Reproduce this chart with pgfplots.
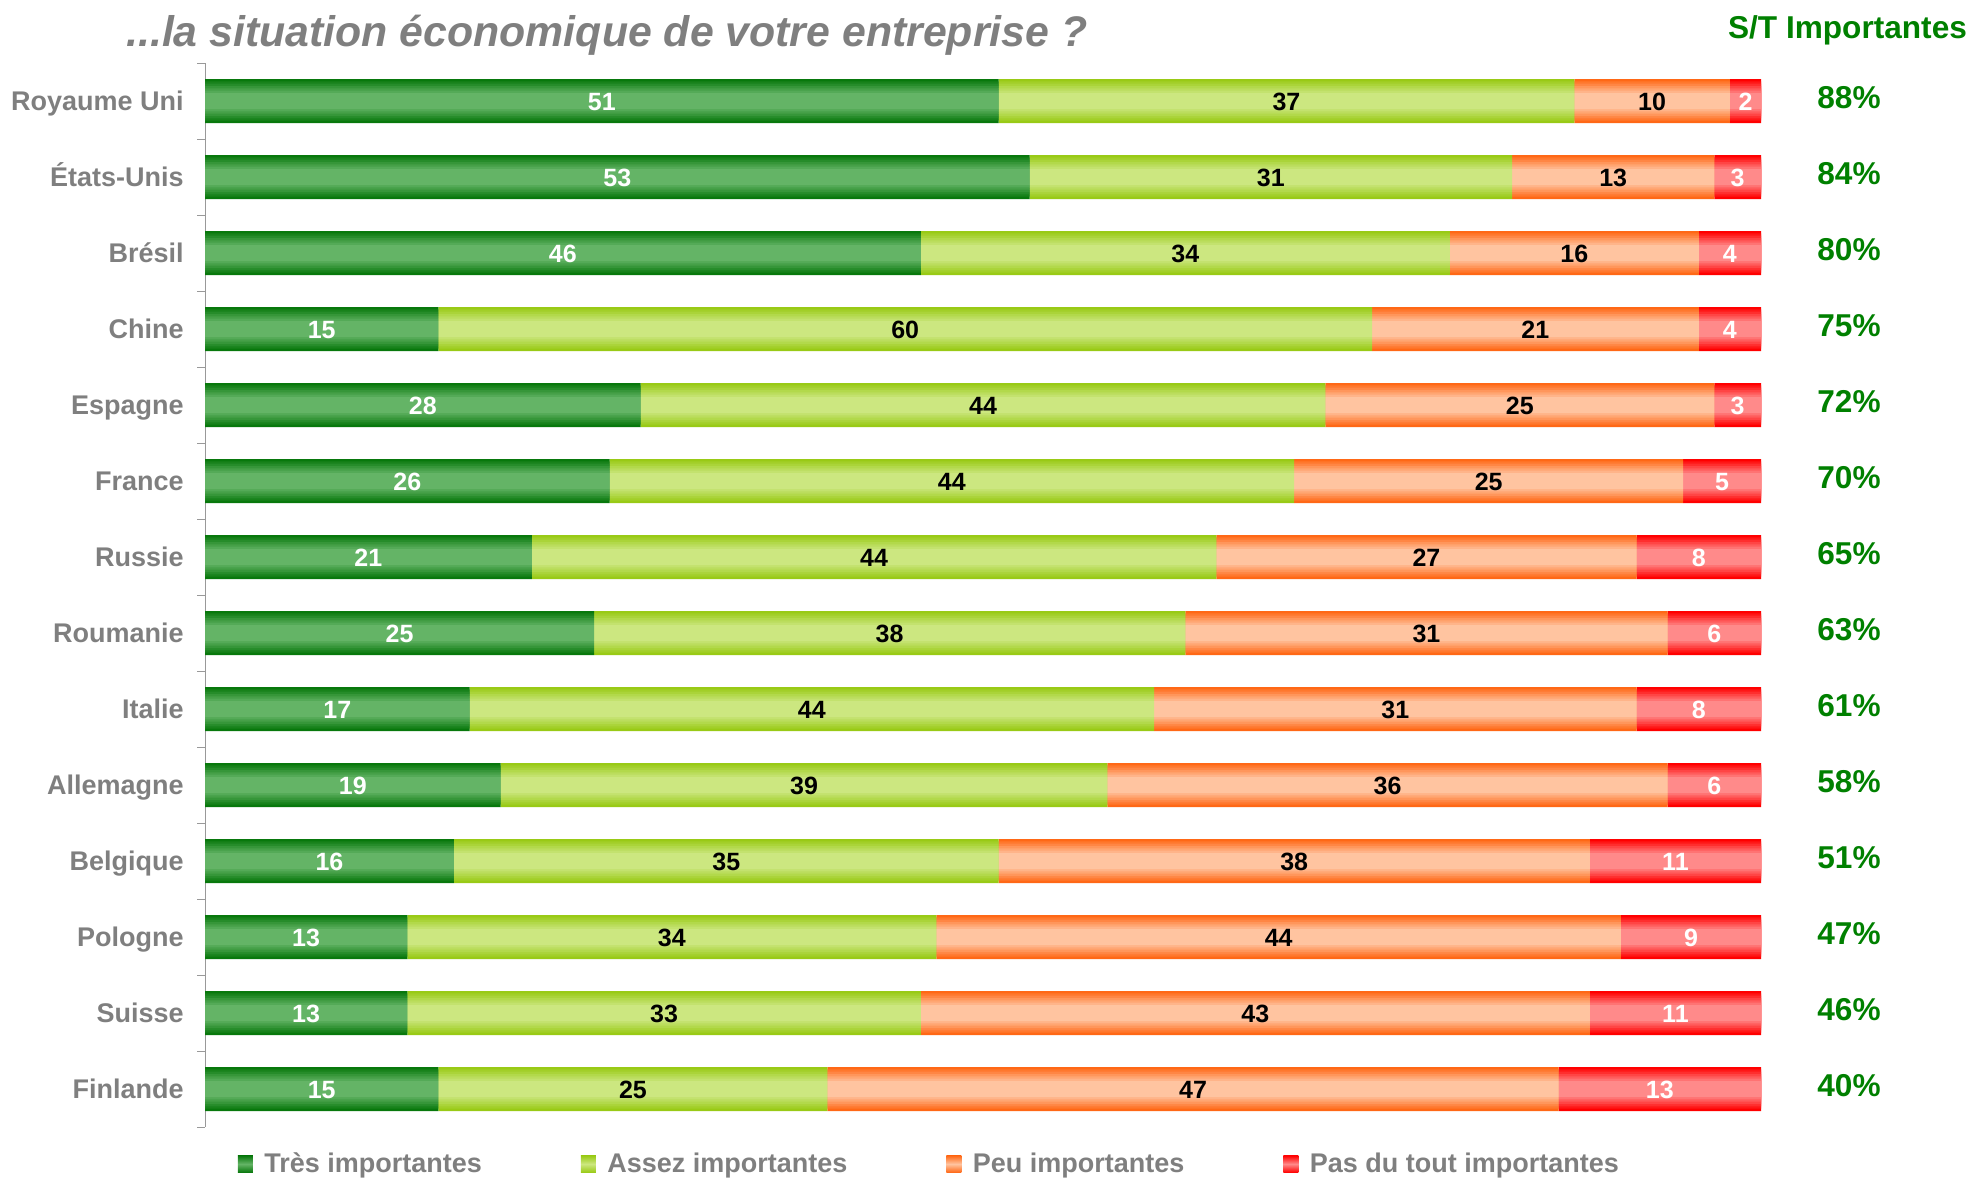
\documentclass[border=0pt]{standalone}
\usepackage{pgfplots}
\usepackage{pgfplotstable}
\pgfplotsset{compat=1.18}
\usepackage{fontspec}
\setmainfont{Liberation Sans}
\definecolor{lblgray}{RGB}{127,127,127}
\definecolor{stgreen}{RGB}{0,128,0}
\definecolor{dgE}{RGB}{8,120,12}
\definecolor{dgM}{RGB}{100,180,102}
\definecolor{lgE}{RGB}{153,202,22}
\definecolor{lgM}{RGB}{204,231,128}
\definecolor{orE}{RGB}{255,104,22}
\definecolor{orM}{RGB}{255,196,160}
\definecolor{rdE}{RGB}{255,0,0}
\definecolor{rdM}{RGB}{255,138,138}
\pgfplotstableread{
y a b c d
0 51 37 10 2
1 53 31 13 3
2 46 34 16 4
3 15 60 21 4
4 28 44 25 3
5 26 44 25 5
6 21 44 27 8
7 25 38 31 6
8 17 44 31 8
9 19 39 36 6
10 16 35 38 11
11 13 34 44 9
12 13 33 43 11
13 15 25 47 13
}\data
\pgfplotsset{
  base/.style={at={(102.5pt,26pt)}, anchor=south west,
    scale only axis, width=778pt, height=532pt,
    xbar stacked, xmin=0, xmax=100,
    ymin=-0.5, ymax=13.5, y dir=reverse},
  leg/.style 2 args={legend image code/.code={\path[top color=#1,bottom color=#1,middle color=#2] (0pt,-4.2pt) rectangle (7.5pt,4.2pt); \path (11.25pt,0pt);}},
}
\newcommand\layer[2]{%
\begin{axis}[base, hide axis, bar width=#1pt]
\addplot[draw=none, fill=dgM!#2!dgE] table[x=a,y=y]{\data};
\addplot[draw=none, fill=lgM!#2!lgE] table[x=b,y=y]{\data};
\addplot[draw=none, fill=orM!#2!orE] table[x=c,y=y]{\data};
\addplot[draw=none, fill=rdM!#2!rdE] table[x=d,y=y]{\data};
\end{axis}}
\begin{document}
\begin{tikzpicture}[x=1pt,y=1pt]
\path[use as bounding box] (0,0) rectangle (987.5,589.5);
\begin{axis}[base, bar width=22pt,
  ytick={0,...,13},
  yticklabels={Royaume Uni, États-Unis, Brésil, Chine, Espagne, France, Russie, Roumanie, Italie, Allemagne, Belgique, Pologne, Suisse, Finlande},
  minor ytick={-0.5,0.5,...,13.5},
  major tick length=0pt, minor tick length=4pt, tick align=outside,
  axis x line=none, axis y line*=left,
  y axis line style={draw=lblgray!80},
  tick style={draw=lblgray!80},
  yticklabel style={inner sep=0pt, xshift=-10.5pt, text height=9.7pt, text depth=0pt, text=lblgray, font=\bfseries\fontsize{13.5}{16}\selectfont},
  legend columns=4,
  legend style={draw=none, fill=none, at={(0.0208,-0.0348)}, anchor=west, font=\bfseries\fontsize{13.5}{16}\selectfont, text=lblgray, /tikz/every even column/.append style={column sep=47.5pt}, inner sep=0pt},
  legend cell align=left,
]
\addplot[draw=none, fill=dgE, leg={dgE}{dgM}] table[x=a,y=y]{\data};
\addplot[draw=none, fill=lgE, leg={lgE}{lgM}] table[x=b,y=y]{\data};
\addplot[draw=none, fill=orE, leg={orE}{orM}] table[x=c,y=y]{\data};
\addplot[draw=none, fill=rdE, leg={rdE}{rdM}] table[x=d,y=y]{\data};
\legend{Très importantes, Assez importantes, Peu importantes, Pas du tout importantes}
\end{axis}
\layer{19.7}{17}
\layer{17.3}{33}
\layer{15}{50}
\layer{12.7}{67}
\layer{10.3}{83}
\begin{axis}[base, hide axis, bar width=8pt,
  /pgf/number format/assume math mode=true,
  nodes near coords,
  every node near coord/.append style={font=\bfseries\fontsize{12.5}{15}\selectfont, anchor=center, text height=9pt, text depth=0pt},
]
\addplot[draw=none, fill=dgM, every node near coord/.append style={text=white}] table[x=a,y=y]{\data};
\addplot[draw=none, fill=lgM, every node near coord/.append style={text=black}] table[x=b,y=y]{\data};
\addplot[draw=none, fill=orM, every node near coord/.append style={text=black}] table[x=c,y=y]{\data};
\addplot[draw=none, fill=rdM, every node near coord/.append style={text=white}] table[x=d,y=y]{\data};
\end{axis}
\begin{axis}[
  at={(102.5pt,26pt)}, anchor=south west,
  scale only axis, width=778pt, height=532pt,
  xmin=0, xmax=100, ymin=-0.5, ymax=13.5, y dir=reverse,
  axis x line=none, axis y line*=right, y axis line style={draw=none},
  ytick={0,...,13},
  yticklabels={88\%,84\%,80\%,75\%,72\%,70\%,65\%,63\%,61\%,58\%,51\%,47\%,46\%,40\%},
  major tick length=0pt,
  yticklabel style={anchor=center, inner sep=0pt, xshift=44pt, yshift=2pt, text height=11.3pt, text depth=0pt, text=stgreen, font=\bfseries\fontsize{15.8}{19}\selectfont},
]
\end{axis}
\node[anchor=west, inner sep=0pt, text=lblgray, font=\bfseries\itshape\fontsize{21.4}{25}\selectfont] at (63,572) {...la situation économique de votre entreprise ?};
\node[inner sep=0pt, text=stgreen, font=\bfseries\fontsize{15.8}{19}\selectfont] at (923.75,574.25) {S/T Importantes};
\end{tikzpicture}
\end{document}
